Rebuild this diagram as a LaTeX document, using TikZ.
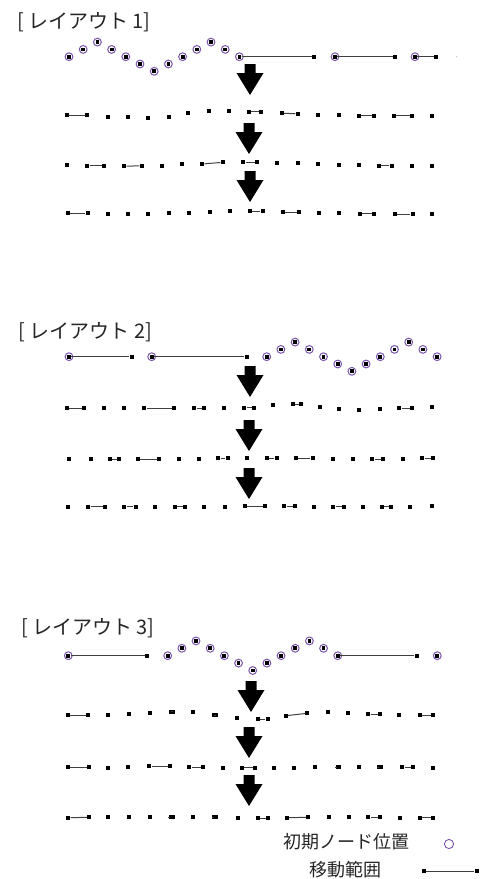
\documentclass[tikz,border=0pt]{standalone}
\usepackage{fontspec}
\setmainfont{Noto Sans CJK JP}
\usetikzlibrary{positioning}

\definecolor{inicol}{RGB}{122,84,172}

% 点と移動範囲の行
\newcommand{\markrow}[3]{%
	\foreach \x/\y [count=\i] in {#2} {\node[sq] (#1s\i) at (\x,\y) {};}
	\foreach \xa/\ya/\xb/\yb [count=\i] in {#3} {
		\node[sq] (#1a\i) at (\xa,\ya) {};
		\node[sq] (#1b\i) at (\xb,\yb) {};
		\draw[rng] (#1a\i) -- (#1b\i);
	}}

\begin{document}
\begin{tikzpicture}[x=0.5pt, y=-0.5pt,
	sq/.style={rectangle, fill=black, minimum size=1.9pt, inner sep=0pt},
	ini/.style={circle, draw=inicol, line width=0.5pt, minimum size=3.9pt, inner sep=0pt},
	rng/.style={draw=black!75, line width=0.5pt},
	ttl/.style={anchor=west, inner sep=0pt, text=black!85, font=\fontsize{10}{12}\selectfont},
	lgd/.style={inner sep=0pt, text=black!85, font=\fontsize{9}{11}\selectfont}]
	\useasboundingbox (0,0) rectangle (482,879);

	% 下向きの矢印
	\foreach \ax/\ay in {250/64, 249/123, 250/171, 250/366, 249/420, 249/468, 251/681, 249/727, 249/775} {
		\fill (\ax-5.5,\ay) -- (\ax+5.5,\ay) -- (\ax+5.5,\ay+9) -- (\ax+13.5,\ay+9)
			-- (\ax,\ay+31) -- (\ax-13.5,\ay+9) -- (\ax-5.5,\ay+9) -- cycle;
	}

	% レイアウト 1
	\node[ttl] (t1) at (16.7,21.7) {[ レイアウト 1]};
	\foreach \o [count=\k from 0] in {0,1,2,1,0,-1,-2,-1,0,1,2,1,0} {
		\node[ini] (c1\k) at ({69+14.2*\k},{56.7-7.3*\o}) {};
		\node[sq] (m1\k) at (c1\k) {};
	}
	\node[ini] (c1x) at (335,56.7) {};
	\node[sq] (m1x) at (c1x) {};
	\node[ini] (c1y) at (415,56.7) {};
	\node[sq] (m1y) at (c1y) {};
	\node[sq] (e1a) at (314.3,56.7) {};
	\node[sq] (e1b) at (395,56.7) {};
	\node[sq] (e1c) at (436,56.7) {};
	\node[circle, fill=black!30, minimum size=0.6pt, inner sep=0pt] (e1d) at (456.7,56.7) {};
	\draw[rng] (m112) -- (e1a);
	\draw[rng] (m1x) -- (e1b);
	\draw[rng] (m1y) -- (e1c);

	\markrow{ra}{107.7/116.7, 128.3/117.3, 148.3/118.3, 168.7/116.7, 188.3/113.3, 209/110.7, 229/110.7, 318.3/115, 338.7/115, 432/115.7}
		{66.7/115/87.3/115, 248.7/111.7/261.3/111.7, 281.7/113.3/297.7/113.7, 359/115.7/374/115.7, 394/115.7/412/115.7}
	\markrow{rb}{66.7/165, 162.3/165.7, 182.3/164.3, 277.3/162.7, 297.7/163.3, 318.3/164, 338.7/164.7, 359/165, 411.7/165.7, 432/165.7}
		{87.3/165.7/104.3/165.7, 124.3/166.3/141.7/165.7, 202.3/164/222.7/162.3, 243.3/162.3/257.3/162.3, 379/165.7/391.7/165.7}
	\markrow{rc}{107.7/214.3, 128.3/214.3, 148.3/214, 169/213.3, 189.3/212.7, 210/212, 230/211.3, 319.3/212.7, 339.3/213.3, 432.3/214.3}
		{67.7/213.3/87.7/213.3, 250/211.3/262.7/211.3, 282.7/212/299/212, 360/213.7/374/213.7, 395/214/412.7/214}

	% レイアウト 2
	\node[ttl] (t2) at (18,331.7) {[ レイアウト 2]};
	\node[ini] (c2x) at (69,356.7) {};
	\node[sq] (m2x) at (c2x) {};
	\node[ini] (c2y) at (151.7,356.7) {};
	\node[sq] (m2y) at (c2y) {};
	\node[sq] (e2a) at (131.7,356.7) {};
	\node[sq] (e2b) at (246.7,356.7) {};
	\draw[rng] (m2x) -- (e2a);
	\draw[rng] (m2y) -- (e2b);
	\foreach \o [count=\k from 0] in {0,1,2,1,0,-1,-2,-1,0,1,2,1,0} {
		\node[ini] (c2\k) at ({266.7+14.2*\k},{356.7-7.3*\o}) {};
		\node[sq] (m2\k) at (c2\k) {};
	}

	\markrow{sa}{104.3/408.3, 124.3/408.3, 224.3/408.3, 272.7/405, 320/407.3, 339.3/409.3, 359.3/410, 380/409.3, 432/407.3}
		{66.7/408.3/84.3/408.3, 144.3/408.3/174/408.3, 194.3/408.3/204.3/408.3, 244.3/407.7/254/407.7, 292.7/404/301/404, 399.3/408.3/412.3/408.3}
	\markrow{sb}{69/459.3, 90.7/459, 179/459, 199/459, 246.7/457.7, 332.7/459, 353.3/459.3, 402.7/459.3}
		{110/459/119/459, 137.7/459/159/459, 218.3/458.3/227.7/458.3, 266.7/458.3/276.7/458.3, 295.7/458.3/312.7/458.3, 372.3/459.3/383.3/459.3, 422.3/458.3/433.3/458.3}
	\markrow{sc}{68.3/507.3, 155/506.7, 204.3/506.7, 225/506.7, 314.3/506.7, 362.7/506.7, 410/506.7, 431.7/506}
		{88.3/506.7/105/506.7, 124.3/506.7/135.7/506.7, 175/506.7/185/506.7, 245/506/265/506, 284.3/506/295/506, 333.3/506.7/344/506.7, 381.7/506.7/391/506.7}

	% レイアウト 3
	\node[ttl] (t3) at (20.7,628.3) {[ レイアウト 3]};
	\node[ini] (c3x) at (68.3,655.7) {};
	\node[sq] (m3x) at (c3x) {};
	\node[ini] (c3y) at (437.3,655.7) {};
	\node[sq] (m3y) at (c3y) {};
	\node[sq] (e3a) at (147.3,655.7) {};
	\node[sq] (e3b) at (416.7,655.7) {};
	\foreach \o [count=\k from 0] in {0,1,2,1,0,-1,-2,-1,0,1,2,1,0} {
		\node[ini] (c3\k) at ({167.7+14.17*\k},{655.7-7.4*\o}) {};
		\node[sq] (m3\k) at (c3\k) {};
	}
	\draw[rng] (m3x) -- (e3a);
	\draw[rng] (m312) -- (e3b);

	\markrow{ta}{108.3/715, 129.3/714.3, 150/712.7, 193.3/711.7, 237.3/718.3, 328.3/711.7, 348.3/713.3, 399.3/715}
		{67.7/715/88.3/715, 170.5/711.7/173/711.7, 214/715/216.5/715, 257.7/719/267.7/719, 285.7/715.7/307.3/713.3, 368.3/714/380/714, 420/715/433.3/715}
	\markrow{tb}{108.3/767.7, 128.3/767.3, 222.7/767.7, 274/768, 294.3/768, 315/767, 359.3/767, 432.7/768}
		{67.7/767.3/89.3/767.3, 149.3/766/170/766, 189.3/767.3/203.3/767.3, 241.7/767.7/255/767.7, 337.5/767/339.5/767, 379/767/381/767, 402.3/767.3/413.3/767.3}
	\markrow{tc}{108.3/817.3, 129.3/817, 150/817, 193.3/817.3, 237.7/818, 329/817.3, 349/817.3, 400/817.7}
		{68.3/817.7/89.3/817.3, 170.7/817/172.7/817, 214/817.3/216/817.3, 257.7/818/268.3/818, 286.7/817.7/308.3/817.3, 368.3/817.3/380/817.3, 420/817.7/433.3/817.7}

	% 凡例
	\node[lgd] (l1) at (346.7,841.7) {初期ノード位置};
	\node[circle, draw=inicol, line width=0.45pt, minimum size=4.6pt, inner sep=0pt] (l2) at (449,844) {};
	\node[lgd] (l3) at (345.8,870) {移動範囲};
	\node[sq] (l4) at (424,871) {};
	\node[sq] (l5) at (476.7,871) {};
	\draw[rng] (l4) -- (l5);
\end{tikzpicture}
\end{document}
